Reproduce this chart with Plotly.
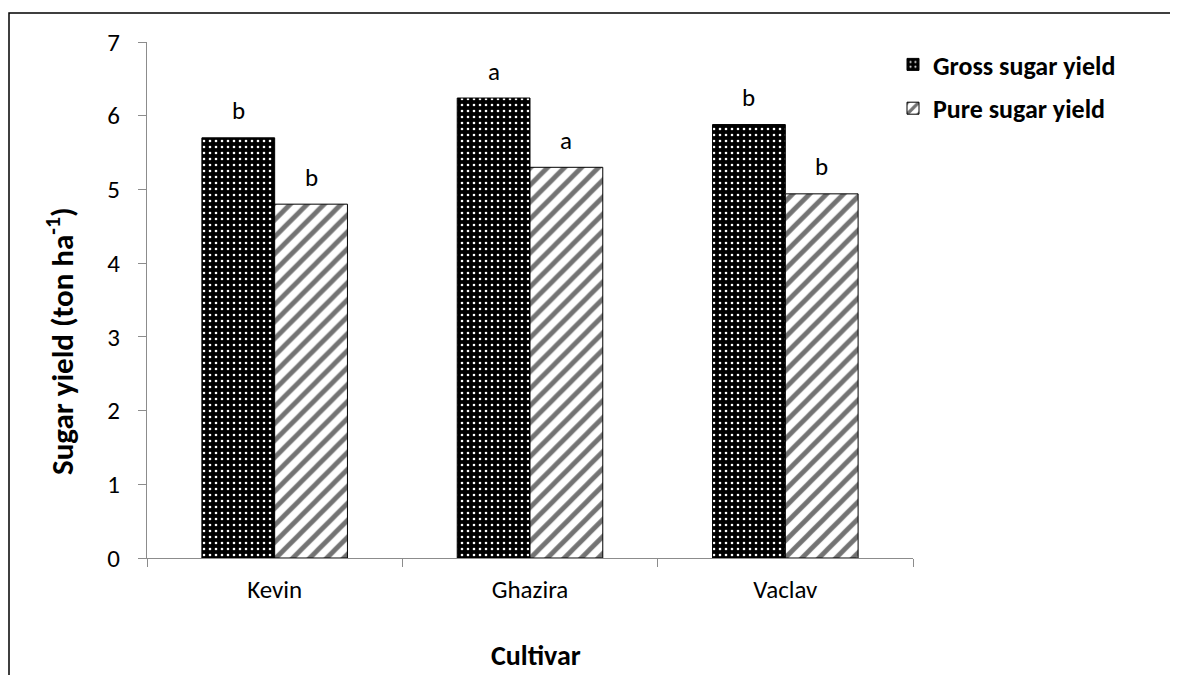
import plotly.graph_objects as go

cultivars = ["Kevin", "Ghazira", "Vaclav"]
gross_yield = [5.70, 6.24, 5.88]
pure_yield = [4.80, 5.30, 4.94]
gross_letters = ["b", "a", "b"]
pure_letters = ["b", "a", "b"]

FONT = "Calibri, Carlito, Lato, sans-serif"
W, H = 1178, 675
ML, MR, MT, MB = 139, 273, 34, 125
BARGAP = 0.43
pw = W - ML - MR
ph = H - MT - MB

fig = go.Figure()
fig.add_trace(go.Bar(
    x=cultivars, y=gross_yield, name="Gross sugar yield", legendgroup="g1",
    marker=dict(color="black", line=dict(color="black", width=1),
                pattern=dict(shape=".", bgcolor="black", fgcolor="white",
                             size=6, solidity=0.15, fillmode="replace")),
))
fig.add_trace(go.Bar(
    x=cultivars, y=pure_yield, name="Pure sugar yield", legendgroup="g2",
    marker=dict(color="white", line=dict(color="black", width=1),
                pattern=dict(shape="/", bgcolor="white", fgcolor="#737373",
                             size=12, solidity=0.4, fillmode="replace")),
))

half = (1 - BARGAP) / 4
for i, (g, p) in enumerate(zip(gross_yield, pure_yield)):
    fig.add_annotation(x=i - half, y=g, text=gross_letters[i], showarrow=False,
                       yanchor="middle", yshift=27, font=dict(size=25, color="black", family=FONT))
    fig.add_annotation(x=i + half, y=p, text=pure_letters[i], showarrow=False,
                       yanchor="middle", yshift=27, font=dict(size=25, color="black", family=FONT))

# axis titles
fig.add_annotation(xref="paper", yref="paper", x=(52 - ML) / pw, y=(H - MB - 333) / ph,
                   text="<b>Sugar yield (ton ha<sup>-1</sup>)</b>", textangle=-90, showarrow=False,
                   xanchor="center", yanchor="middle",
                   font=dict(size=31, family=FONT, color="black"))
fig.add_annotation(xref="paper", yref="paper", x=(528 - ML) / pw, y=(H - MB - 647) / ph,
                   text="<b>Cultivar</b>", showarrow=False, xanchor="center", yanchor="middle",
                   font=dict(size=28, family=FONT, color="black"))

# outer frame
fig.add_shape(type="rect", xref="paper", yref="paper",
              x0=(1 - ML) / pw, x1=(W + 20 - ML) / pw,
              y0=-(H + 20 - MT - ph) / ph, y1=(H - MB - 5) / ph,
              line=dict(color="black", width=1.5), fillcolor="rgba(0,0,0,0)", layer="below")

fig.update_layout(
    width=W, height=H,
    margin=dict(l=ML, r=MR, t=MT, b=MB),
    paper_bgcolor="white", plot_bgcolor="white",
    barmode="group", bargap=BARGAP, bargroupgap=0,
    font=dict(family=FONT, color="black"),
    showlegend=True,
    legend=dict(x=(885 - ML) / pw, y=(H - MB - 33) / ph, xanchor="left", yanchor="top",
                font=dict(size=26, family=FONT, color="black", weight="bold"),
                tracegroupgap=7, itemwidth=30, bgcolor="rgba(0,0,0,0)"),
    xaxis=dict(showline=True, linecolor="#8c8c8c", linewidth=1.3, ticks="outside",
               tickson="boundaries", ticklen=8, tickcolor="#8c8c8c",
               ticklabelstandoff=9,
               tickfont=dict(size=25, family=FONT, color="black")),
    yaxis=dict(range=[0, 7], dtick=1, showline=True, linecolor="#8c8c8c", linewidth=1.3,
               ticks="outside", ticklen=8, tickcolor="#8c8c8c", showgrid=False, zeroline=False,
               ticklabelstandoff=13,
               tickfont=dict(size=25, family=FONT, color="black")),
)

fig.write_html("out.html")
